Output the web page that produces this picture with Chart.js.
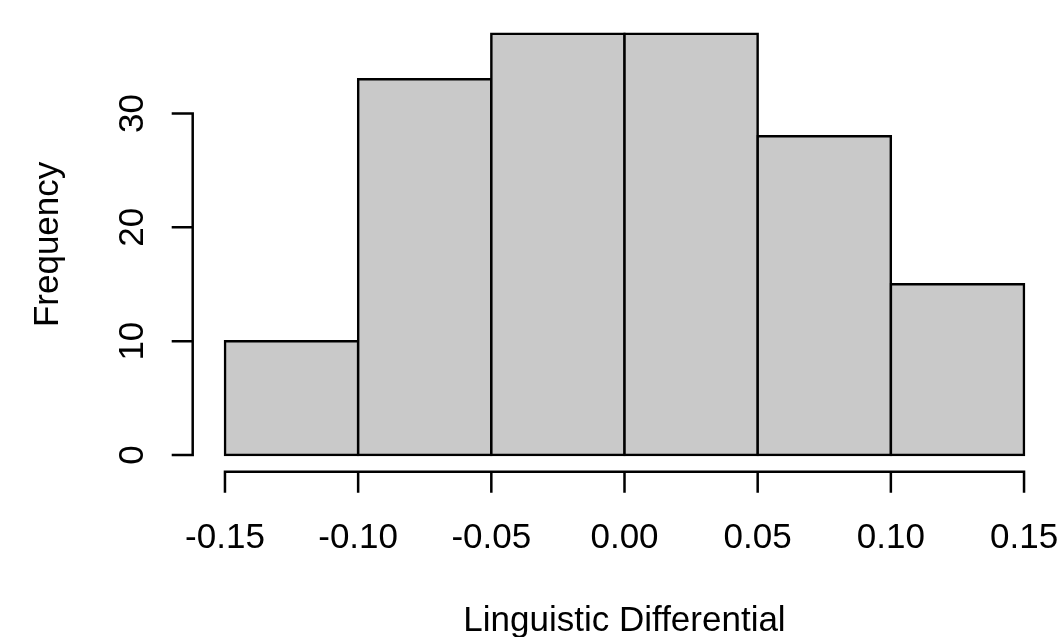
<!DOCTYPE html>
<html>
<head>
<meta charset="utf-8">
<script src="https://cdn.jsdelivr.net/npm/chart.js@4/dist/chart.umd.min.js"></script>
<style>
    html, body { margin: 0; padding: 0; background: #ffffff; }
    #wrap { width: 1060px; height: 637px; }
</style>
</head>
<body>
<div id="wrap"><canvas id="histChart" width="1060" height="637"></canvas></div>
<script>
//------------* Data *------------//
var binCenters = [-0.125, -0.075, -0.025, 0.025, 0.075, 0.125];
var binCounts = [10, 33, 37, 37, 28, 15];
var xTicks = [-0.15, -0.10, -0.05, 0.00, 0.05, 0.10, 0.15];
var yTicks = [0, 10, 20, 30];
var xTitle = 'Linguistic Differential';
var yTitle = 'Frequency';

var FONT = '35px "Liberation Sans", Arial, Helvetica, sans-serif';
var LINE_W = 2.5;

// R style axes : lines span first to last tick, ticks point outward
var rAxes = {
    id: 'rAxes',
    afterDraw: function (chart) {
        var ctx = chart.ctx;
        var xs = chart.scales.x;
        var ys = chart.scales.y;
        var area = chart.chartArea;
        var tickLen = 21;

        ctx.save();
        ctx.strokeStyle = '#000000';
        ctx.fillStyle = '#000000';
        ctx.lineWidth = LINE_W;
        ctx.lineCap = 'butt';
        ctx.font = FONT;

        // x axis
        var xa = area.bottom;
        ctx.beginPath();
        ctx.moveTo(xs.getPixelForValue(xTicks[0]) - LINE_W / 2, xa);
        ctx.lineTo(xs.getPixelForValue(xTicks[xTicks.length - 1]) + LINE_W / 2, xa);
        xTicks.forEach(function (t) {
            var px = xs.getPixelForValue(t);
            ctx.moveTo(px, xa);
            ctx.lineTo(px, xa + tickLen);
        });
        ctx.stroke();
        ctx.textAlign = 'center';
        ctx.textBaseline = 'alphabetic';
        xTicks.forEach(function (t) {
            ctx.fillText(t.toFixed(2), xs.getPixelForValue(t), 547.5);
        });

        // y axis
        var ya = area.left - 0.3;
        ctx.beginPath();
        ctx.moveTo(ya, ys.getPixelForValue(yTicks[0]) + LINE_W / 2);
        ctx.lineTo(ya, ys.getPixelForValue(yTicks[yTicks.length - 1]) - LINE_W / 2);
        yTicks.forEach(function (t) {
            var py = ys.getPixelForValue(t);
            ctx.moveTo(ya, py);
            ctx.lineTo(ya - tickLen, py);
        });
        ctx.stroke();
        yTicks.forEach(function (t) {
            ctx.save();
            ctx.translate(143, ys.getPixelForValue(t));
            ctx.rotate(-Math.PI / 2);
            ctx.fillText(String(t), 0, 0);
            ctx.restore();
        });

        // titles
        ctx.fillText(xTitle, (area.left + area.right) / 2, 631);
        ctx.save();
        ctx.translate(58, (area.top + area.bottom) / 2);
        ctx.rotate(-Math.PI / 2);
        ctx.fillText(yTitle, 0, 0);
        ctx.restore();

        ctx.restore();
    }
};

var histData = {
    datasets: [{
        label: yTitle,
        data: binCenters.map(function (c, i) { return { x: c, y: binCounts[i] }; }),
        backgroundColor: '#c9c9c9',
        borderColor: '#000000',
        borderWidth: LINE_W,
        borderSkipped: false,
        inflateAmount: LINE_W / 2,
        barPercentage: 1,
        categoryPercentage: 1
    }]
};

var histConfig = {
    type: 'bar',
    data: histData,
    options: {
        responsive: false,
        animation: false,
        events: [],
        layout: {
            padding: { left: 193, right: 4, top: 17, bottom: 165.2 }
        },
        scales: {
            x: {
                type: 'linear',
                min: -0.162,
                max: 0.162,
                offset: false,
                display: false
            },
            y: {
                type: 'linear',
                min: -1.48,
                max: 38.48,
                display: false
            }
        },
        plugins: {
            legend: { display: false },
            tooltip: { enabled: false }
        }
    },
    plugins: [rAxes]
};

var histChart = new Chart(document.getElementById('histChart'), histConfig);
</script>
</body>
</html>
